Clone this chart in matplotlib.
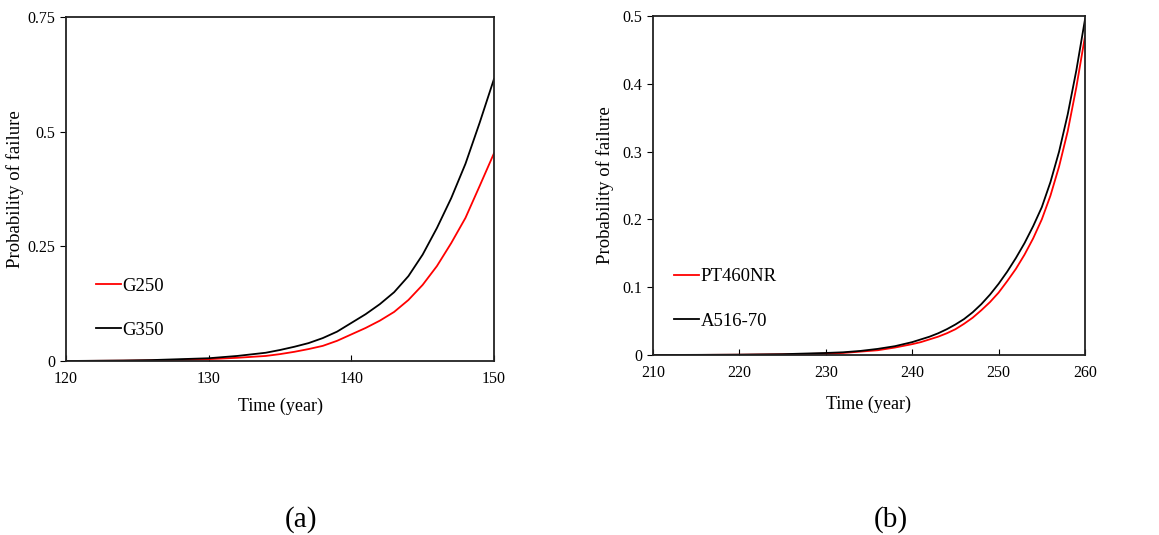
import matplotlib
matplotlib.use("Agg")
import matplotlib.pyplot as plt
from matplotlib.ticker import FuncFormatter

# (a) Pf vs time, G250 / G350
years_a = [120, 122, 124, 126, 128, 130, 132, 134, 135, 136, 137, 138, 139,
           140, 141, 142, 143, 144, 145, 146, 147, 148, 149, 150]
g250 = [0, 0.0003, 0.0007, 0.0013, 0.0025, 0.004, 0.007, 0.011, 0.015, 0.020,
        0.026, 0.033, 0.044, 0.058, 0.072, 0.088, 0.107, 0.133, 0.166, 0.207,
        0.257, 0.312, 0.382, 0.453]
g350 = [0, 0.0005, 0.001, 0.002, 0.004, 0.006, 0.011, 0.018, 0.024, 0.031,
        0.039, 0.050, 0.064, 0.083, 0.102, 0.124, 0.150, 0.185, 0.232, 0.290,
        0.355, 0.430, 0.520, 0.615]

# (b) Pf vs time, PT460NR / A516-70
years_b = [210, 215, 220, 225, 230, 232, 234, 236, 238, 240, 241, 242, 243,
           244, 245, 246, 247, 248, 249, 250, 251, 252, 253, 254, 255, 256,
           257, 258, 259, 260]
pt460nr = [0, 0.0001, 0.0004, 0.001, 0.002, 0.003, 0.005, 0.007, 0.011, 0.016,
           0.019, 0.023, 0.027, 0.032, 0.038, 0.046, 0.055, 0.066, 0.078,
           0.092, 0.109, 0.127, 0.148, 0.172, 0.200, 0.235, 0.278, 0.330,
           0.395, 0.470]
a516 = [0, 0.0002, 0.0005, 0.0012, 0.003, 0.004, 0.006, 0.009, 0.013, 0.019,
        0.023, 0.027, 0.032, 0.038, 0.045, 0.053, 0.063, 0.075, 0.089, 0.105,
        0.123, 0.143, 0.165, 0.190, 0.218, 0.255, 0.300, 0.355, 0.420, 0.495]

plt.rcParams["font.family"] = ["Liberation Serif", "DejaVu Serif"]

W, H = 1159, 535
fig = plt.figure(figsize=(W / 100, H / 100), dpi=100)


def px_axes(x0, x1, y0, y1):
    # y0 = top pixel, y1 = bottom pixel
    return fig.add_axes([x0 / W, 1 - y1 / H, (x1 - x0) / W, (y1 - y0) / H])


def num_fmt(v, _):
    return f"{v:.2f}".rstrip("0").rstrip(".")


def style(ax, xlim, ylim, xticks, yticks, xpad, ypad):
    ax.set_xlim(*xlim)
    ax.set_ylim(*ylim)
    ax.set_xticks(xticks)
    ax.set_yticks(yticks)
    ax.yaxis.set_major_formatter(FuncFormatter(num_fmt))
    ax.tick_params(axis="x", direction="in", length=4, labelsize=11.5, pad=7)
    ax.tick_params(axis="y", direction="out", length=4, labelsize=11.5, pad=4)
    for sp in ax.spines.values():
        sp.set_linewidth(1.3)
        sp.set_color("#222222")
    ax.set_xlabel("Time (year)", fontsize=13, labelpad=xpad)
    ax.set_ylabel("Probability of failure", fontsize=13.5, labelpad=ypad)


def add_legend(ax, x, y):
    ax.legend(loc="lower left", bbox_to_anchor=(x, y), frameon=False,
              fontsize=13.5, handlelength=1.3, handletextpad=0.1,
              labelspacing=1.45, borderaxespad=0)


ax1 = px_axes(66, 494, 17, 361)
ax1.plot(years_a, g250, color="red", lw=1.3, label="G250")
ax1.plot(years_a, g350, color="black", lw=1.3, label="G350")
style(ax1, (120, 150), (0, 0.75), [120, 130, 140, 150], [0, 0.25, 0.5, 0.75],
      xpad=8, ypad=2)
add_legend(ax1, 0.053, 0.042)

ax2 = px_axes(653, 1085, 16, 355)
ax2.plot(years_b, pt460nr, color="red", lw=1.3, label="PT460NR")
ax2.plot(years_b, a516, color="black", lw=1.3, label="A516-70")
style(ax2, (210, 260), (0, 0.5), [210, 220, 230, 240, 250, 260],
      [0, 0.1, 0.2, 0.3, 0.4, 0.5], xpad=11, ypad=6)
add_legend(ax2, 0.032, 0.053)

fig.text(301 / W, 1 - 520 / H, "(a)", ha="center", va="center", fontsize=21)
fig.text(891 / W, 1 - 520 / H, "(b)", ha="center", va="center", fontsize=21)

fig.savefig("out.png", dpi=100)
